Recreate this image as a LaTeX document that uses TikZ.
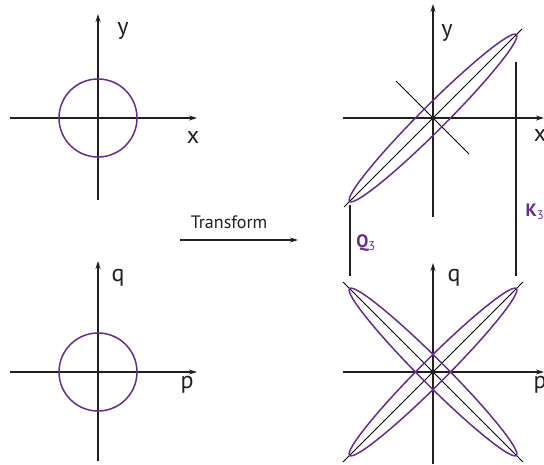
\documentclass[tikz,border=0pt]{standalone}
\usepackage{fontspec}
\setmainfont{PT Sans}
\usetikzlibrary{arrows.meta,calc}
\definecolor{phasepurple}{RGB}{102,45,145}
\definecolor{axisgray}{RGB}{35,31,32}

\begin{document}
\begin{tikzpicture}[x=1pt,y=1pt,
  axis/.style={draw=axisgray,line width=1.1pt,-{Stealth[length=8pt,width=5pt]}},
  stem/.style={draw=axisgray,line width=1.1pt},
  guide/.style={draw=black,line width=.9pt},
  orbit/.style={draw=phasepurple,line width=1.5pt},
  lbl/.style={font=\fontsize{24}{26}\selectfont,text=axisgray,inner sep=0pt},
  tag/.style={font=\fontsize{18}{20}\selectfont\bfseries,text=phasepurple,inner sep=0pt}]
\useasboundingbox (0,0) rectangle (544,464);
% origins of the four panels
\coordinate (xyin) at (98,346);
\coordinate (pqin) at (98,92);
\coordinate (xyout) at (433,346);
\coordinate (pqout) at (433,92);

% left: unit circles
\draw[axis] ($(xyin)+(-88,0)$) -- ($(xyin)+(99,0)$);
\draw[axis] ($(xyin)+(0,-82)$) -- ($(xyin)+(0,104)$);
\draw[orbit] (xyin) circle (39);
\node[lbl] (ylbl1) at (123,433) {y};
\node[lbl] (xlbl1) at (193,326) {x};

\draw[axis] ($(pqin)+(-88,0)$) -- ($(pqin)+(99,0)$);
\draw[axis] ($(pqin)+(0,-89)$) -- ($(pqin)+(0,111)$);
\draw[orbit] (pqin) circle (39);
\node[lbl] (qlbl1) at (118,186) {q};
\node[lbl] (plbl1) at (187,79) {p};

% transform arrow
\coordinate (tfrom) at (180,224);
\coordinate (tto) at (298,224);
\draw[axis] (tfrom) -- (tto);
\node[font=\fontsize{18}{20}\selectfont,text=axisgray,inner sep=0pt] (tf) at (229,242) {Transform};

% right top: squeezed ellipse
\draw[guide] ($(xyout)+(-89,-89)$) -- ($(xyout)+(89,89)$);
\draw[guide] ($(xyout)+(-37,37)$) -- ($(xyout)+(36,-36)$);
\draw[axis] ($(xyout)+(-90,0)$) -- ($(xyout)+(111,0)$);
\draw[axis] ($(xyout)+(0,-99)$) -- ($(xyout)+(0,114)$);
\draw[orbit,rotate around={45:(xyout)}] (xyout) ellipse (118 and 12.5);
\node[lbl] (ylbl2) at (447,431) {y};
\node[lbl] (xlbl2) at (540,328) {x};

% spread markers
\draw[stem] (350,259) -- (350,188);
\draw[stem] (516,402) -- (516,188);
\node[tag] (qtag) at (366,221) {Q\textsubscript{\mdseries 3}};
\node[tag] (ktag) at (535,252) {K\textsubscript{\mdseries 3}};

% right bottom: crossed ellipses
\draw[guide] ($(pqout)+(-90,-90)$) -- ($(pqout)+(90,90)$);
\draw[guide] ($(pqout)+(-90,90)$) -- ($(pqout)+(90,-90)$);
\draw[axis] ($(pqout)+(-90,0)$) -- ($(pqout)+(111,0)$);
\draw[axis] ($(pqout)+(0,-92)$) -- ($(pqout)+(0,109)$);
\draw[orbit,rotate around={45:(pqout)}] (pqout) ellipse (118 and 12.5);
\draw[orbit,rotate around={-45:(pqout)}] (pqout) ellipse (118 and 12.5);
\node[lbl] (qlbl2) at (454,186) {q};
\node[lbl] (plbl2) at (540,79) {p};
\end{tikzpicture}
\end{document}
